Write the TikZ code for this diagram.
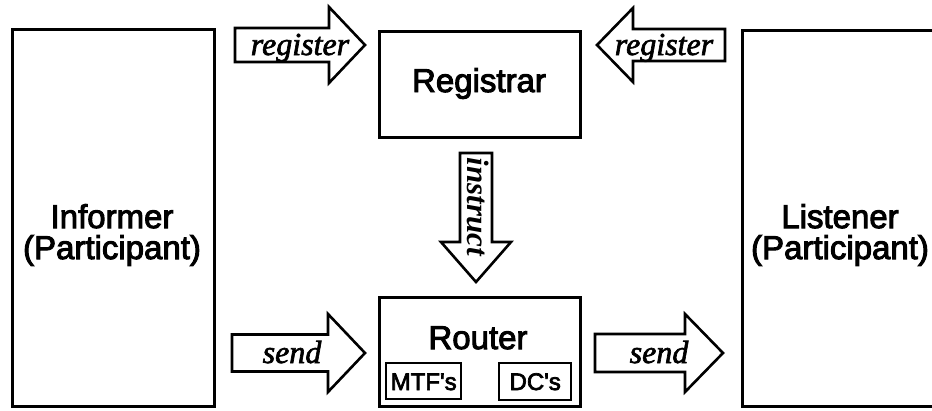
\documentclass[tikz,border=0pt]{standalone}
\usepackage{fontspec}
\setmainfont{Liberation Serif}
\newfontfamily\boxfont{Liberation Sans}[FakeBold=3]
\newfontfamily\verbfont{Liberation Serif}[UprightFont={* Italic}, FakeBold=2]
\newfontfamily\instrfont{Liberation Serif}[UprightFont={* Bold Italic}]

% block arrow: #1 tail coordinate name, #2 tail position, #3 direction (deg),
% #4 length, #5 shaft width, #6 head width, #7 head length
\newcommand\fatarrow[7]{%
  \coordinate (#1) at #2;
  \begin{scope}[shift={(#1)}, rotate=#3]
    \draw[fat] (0,-#5/2) -- (#4-#7,-#5/2) -- (#4-#7,-#6/2) -- (#4,0)
      -- (#4-#7,#6/2) -- (#4-#7,#5/2) -- (0,#5/2) -- cycle;
  \end{scope}}

\begin{document}
\begin{tikzpicture}[x=1pt, y=-1pt,
  box/.style={draw, line width=2.8pt, inner sep=0pt, anchor=north west},
  smallbox/.style={draw, line width=2.4pt, inner sep=0pt, anchor=north west},
  fat/.style={draw, line width=2.6pt, fill=white, line join=miter},
  bigtext/.style={font=\boxfont\fontsize{33}{31}\selectfont, align=center, inner sep=0pt},
  smalltext/.style={font=\boxfont\fontsize{24}{24}\selectfont, inner sep=0pt, anchor=base},
  verbtext/.style={font=\verbfont\fontsize{32}{32}\selectfont, inner sep=0pt, anchor=base},
  ]
\useasboundingbox (0,0) rectangle (932,410);
\fill[white] (0,0) rectangle (932,410);
\clip (0,0) rectangle (932,410);

% participants
\node[box, minimum width=202pt, minimum height=377pt] (informer) at (11,28) {};
\node[bigtext] (informer-name) at (112,235) {Informer\\(Participant)};
\node[box, minimum width=200pt, minimum height=376pt] (listener) at (741,29) {};
\node[bigtext] (listener-name) at (840,235) {Listener\\(Participant)};

% registrar and router
\node[box, minimum width=201pt, minimum height=106pt] (registrar) at (378,30) {};
\node[bigtext, anchor=base] (registrar-name) at (479,92) {Registrar};
\node[box, minimum width=201pt, minimum height=109pt] (router) at (378,296) {};
\node[bigtext, anchor=base] (router-name) at (478,349) {Router};
\node[smallbox, minimum width=75pt, minimum height=36pt] (mtf) at (385,362) {};
\node[smalltext] (mtf-name) at (mtf.center |- 0,390) {MTF's};
\node[smallbox, minimum width=72pt, minimum height=37pt] (dc) at (498,362) {};
\node[smalltext] (dc-name) at (dc.center |- 0,390) {DC's};

% block arrows
\fatarrow{reg-left}{(235,45)}{0}{130}{34}{76}{36}
\node[verbtext] (reg-left-label) at (300,55) {register};
\fatarrow{reg-right}{(725,45)}{180}{128}{32}{74}{36}
\node[verbtext] (reg-right-label) at (664,55) {register};
\fatarrow{send-left}{(232,353)}{0}{133}{37}{78}{37}
\node[verbtext] (send-left-label) at (292,363) {send};
\fatarrow{send-right}{(595,353)}{0}{128}{38}{78}{38}
\node[verbtext] (send-right-label) at (659,363) {send};
\fatarrow{instr}{(476,153)}{-90}{129}{32}{70}{40}
\node[font=\instrfont\fontsize{31}{31}\selectfont, inner sep=0pt, rotate=-90] (instr-label) at (478,207) {instruct};
\end{tikzpicture}
\end{document}
